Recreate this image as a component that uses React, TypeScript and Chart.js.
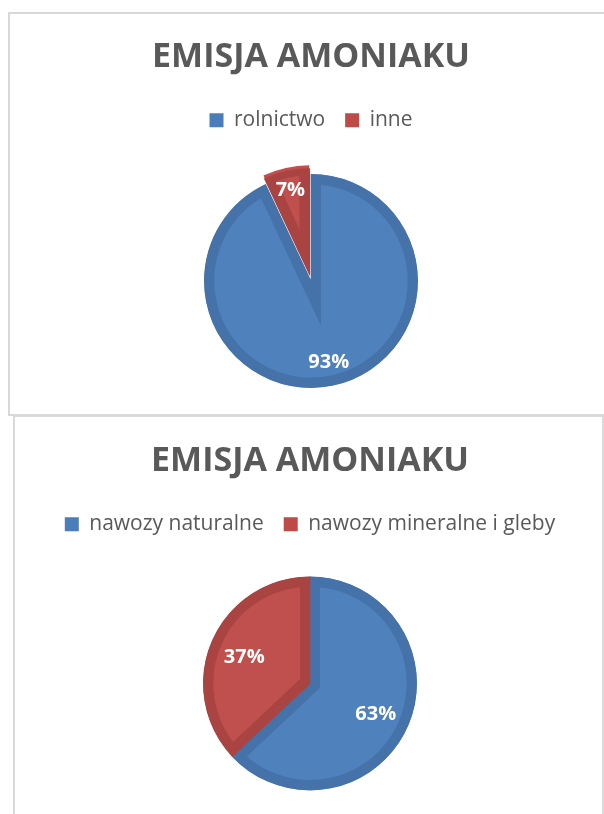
import React, { useEffect, useRef } from "react";
import { Chart, registerables } from "chart.js";

Chart.register(...registerables);

const TITLE = "EMISJA AMONIAKU";

const topLabels = ["rolnictwo", "inne"];
const topValues = [93, 7];

const bottomLabels = ["nawozy naturalne", "nawozy mineralne i gleby"];
const bottomValues = [63, 37];

const fillColors = ["#4F81BD", "#C0504D"];
const borderColors = ["#4672AA", "#A94442"];
const legendColors = ["#4A7EBB", "#BE4B48"];

const FONT = "'Open Sans', 'Noto Sans', sans-serif";

const labelPlugin = {
  id: "sliceLabels",
  afterDatasetsDraw(chart: any) {
    const ctx = chart.ctx;
    const meta = chart.getDatasetMeta(0);
    const ds = chart.data.datasets[0];
    const total = ds.data.reduce((a: number, b: number) => a + b, 0);
    const factors: number[] = chart.options.plugins.sliceLabels.factors;
    ctx.save();
    ctx.fillStyle = "#FFFFFF";
    ctx.font = "bold 20px " + FONT;
    ctx.textAlign = "center";
    ctx.textBaseline = "middle";
    meta.data.forEach((arc: any, i: number) => {
      const p = arc.getProps(["x", "y", "startAngle", "endAngle", "outerRadius", "circumference"], true);
      const mid = (p.startAngle + p.endAngle) / 2;
      const off = arc.options.offset || 0;
      const circ = p.circumference;
      const shift = (off / 4) * (1 + (1 - Math.sin(Math.min(Math.PI, circ || 0))));
      const r = shift + factors[i] * p.outerRadius;
      const x = p.x + Math.cos(mid) * r;
      const y = p.y + Math.sin(mid) * r + 2;
      const pct = Math.round((ds.data[i] / total) * 100) + "%";
      ctx.fillText(pct, x, y);
    });
    ctx.restore();
  },
};

type PieProps = {
  labels: string[];
  values: number[];
  offsets: number[];
  factors: number[];
  left: number;
  top: number;
  width: number;
  height: number;
  padTop: number;
  padBottom: number;
  titlePad: { top: number; bottom: number };
};

function PieChart(props: PieProps) {
  const ref = useRef<HTMLCanvasElement | null>(null);
  useEffect(() => {
    if (!ref.current) return;
    const chart = new Chart(ref.current, {
      type: "pie",
      data: {
        labels: props.labels,
        datasets: [
          {
            data: props.values,
            backgroundColor: fillColors,
            borderColor: borderColors,
            borderWidth: 10,
            borderAlign: "inner",
            borderJoinStyle: "miter",
            offset: props.offsets,
          } as any,
        ],
      },
      options: {
        responsive: false,
        animation: false,
        events: [],
        radius: 107,
        layout: { padding: { top: props.padTop, bottom: props.padBottom, left: 0, right: 0 } },
        plugins: {
          tooltip: { enabled: false },
          title: {
            display: true,
            text: TITLE,
            color: "#595959",
            font: { family: FONT, size: 34, weight: "bold" },
            padding: props.titlePad,
          },
          legend: {
            display: true,
            position: "top",
            labels: {
              boxWidth: 14,
              boxHeight: 14,
              padding: 20,
              color: "#595959",
              font: { family: FONT, size: 21 },
              generateLabels: (c: any) => {
                const base = (Chart as any).overrides.pie.plugins.legend.labels.generateLabels(c);
                return base.map((l: any, i: number) => ({
                  ...l,
                  fillStyle: legendColors[i],
                  lineWidth: 0,
                  strokeStyle: "rgba(0,0,0,0)",
                }));
              },
            },
          },
          sliceLabels: { factors: props.factors },
        } as any,
      } as any,
      plugins: [labelPlugin],
    });
    return () => chart.destroy();
  }, []);
  return (
    <canvas
      ref={ref}
      width={props.width}
      height={props.height}
      style={{
        position: "absolute",
        left: props.left,
        top: props.top,
        width: props.width,
        height: props.height,
      }}
    />
  );
}

export default function App() {
  return (
    <div
      style={{
        position: "absolute",
        left: 0,
        top: 0,
        width: 604,
        height: 814,
        overflow: "hidden",
        background: "#FFFFFF",
      }}
    >
      <div
        style={{
          position: "absolute",
          left: 8,
          top: 12,
          width: 700,
          height: 404,
          border: "2px solid #D9D9D9",
          boxSizing: "border-box",
        }}
      />
      <div
        style={{
          position: "absolute",
          left: 13,
          top: 415,
          width: 591,
          height: 500,
          border: "2px solid #D9D9D9",
          boxSizing: "border-box",
        }}
      />
      <PieChart
        labels={topLabels}
        values={topValues}
        offsets={[0, 23]}
        factors={[0.76, 0.8]}
        left={11}
        top={0}
        width={600}
        height={430}
        padTop={14}
        padBottom={9}
        titlePad={{ top: 23, bottom: 12 }}
      />
      <PieChart
        labels={bottomLabels}
        values={bottomValues}
        offsets={[0, 0]}
        factors={[0.67, 0.67]}
        left={10}
        top={415}
        width={600}
        height={410}
        padTop={2}
        padBottom={3}
        titlePad={{ top: 24, bottom: 12 }}
      />
    </div>
  );
}
